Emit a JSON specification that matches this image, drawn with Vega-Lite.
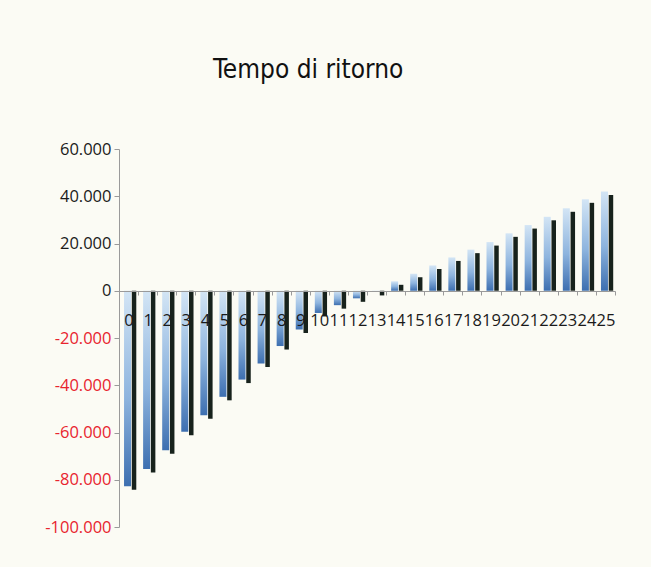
{
  "$schema": "https://vega.github.io/schema/vega-lite/v6.json",
  "width": 496,
  "height": 378,
  "autosize": {"type": "none"},
  "padding": {"left": 119, "top": 149, "right": 36, "bottom": 40},
  "background": "#fbfbf4",
  "title": {
    "text": "Tempo di ritorno",
    "anchor": "start",
    "frame": "group",
    "dx": 94,
    "offset": 58,
    "font": "Liberation Sans Narrow, DejaVu Sans Condensed, Liberation Sans",
    "fontSize": 26,
    "fontWeight": "normal",
    "color": "#111111"
  },
  "config": {
    "locale": {
      "number": {
        "decimal": ",",
        "thousands": ".",
        "grouping": [3],
        "currency": ["€", ""],
        "minus": "-"
      }
    },
    "view": {"stroke": null},
    "axis": {"grid": false}
  },
  "data": {
    "values": [
      {"periodo": "0", "valore": -82800},
      {"periodo": "1", "valore": -75500},
      {"periodo": "2", "valore": -67500},
      {"periodo": "3", "valore": -59700},
      {"periodo": "4", "valore": -52700},
      {"periodo": "5", "valore": -44900},
      {"periodo": "6", "valore": -37600},
      {"periodo": "7", "valore": -30800},
      {"periodo": "8", "valore": -23400},
      {"periodo": "9", "valore": -16400},
      {"periodo": "10", "valore": -9400},
      {"periodo": "11", "valore": -6100},
      {"periodo": "12", "valore": -3200},
      {"periodo": "13", "valore": -500},
      {"periodo": "14", "valore": 4000},
      {"periodo": "15", "valore": 7200},
      {"periodo": "16", "valore": 10700},
      {"periodo": "17", "valore": 14100},
      {"periodo": "18", "valore": 17400},
      {"periodo": "19", "valore": 20600},
      {"periodo": "20", "valore": 24300},
      {"periodo": "21", "valore": 27800},
      {"periodo": "22", "valore": 31300},
      {"periodo": "23", "valore": 34900},
      {"periodo": "24", "valore": 38700},
      {"periodo": "25", "valore": 42000}
    ]
  },
  "encoding": {
    "x": {
      "field": "periodo",
      "type": "ordinal",
      "sort": null,
      "scale": {"paddingInner": 0, "paddingOuter": 0},
      "axis": {
        "title": null,
        "orient": "bottom",
        "offset": -236,
        "zindex": 1,
        "domainColor": "#9a9a9a",
        "tickColor": "#9a9a9a",
        "tickBand": "extent",
        "tickSize": 4,
        "labelAngle": 0,
        "labelPadding": 17,
        "labelFont": "Open Sans",
        "labelFontSize": 16.5,
        "labelColor": "#1a1a1a",
        "labelOverlap": false
      }
    },
    "y": {
      "field": "valore",
      "type": "quantitative",
      "scale": {"domain": [-100000, 60000], "nice": false, "zero": false},
      "axis": {
        "title": null,
        "values": [-100000, -80000, -60000, -40000, -20000, 0, 20000, 40000, 60000],
        "format": ",.0f",
        "domainColor": "#9a9a9a",
        "tickColor": "#9a9a9a",
        "tickSize": 5,
        "labelPadding": 3,
        "labelFont": "Open Sans",
        "labelFontSize": 16.5,
        "labelColor": {
          "condition": {"test": "datum.value < 0", "value": "#e8242e"},
          "value": "#1a1a1a"
        }
      }
    }
  },
  "layer": [
    {
      "mark": {
        "type": "bar",
        "width": 4.5,
        "xOffset": 5.5,
        "yOffset": 3.5,
        "color": "#17221c"
      },
      "encoding": {"y2": {"datum": 0}}
    },
    {
      "mark": {
        "type": "bar",
        "width": 7,
        "xOffset": -1,
        "color": {
          "gradient": "linear",
          "x1": 0, "y1": 0, "x2": 0, "y2": 1,
          "stops": [
            {"offset": 0, "color": "#d3e5f5"},
            {"offset": 0.55, "color": "#8db4de"},
            {"offset": 1, "color": "#3d6fb0"}
          ]
        }
      },
      "encoding": {"y2": {"datum": 0}}
    }
  ]
}
